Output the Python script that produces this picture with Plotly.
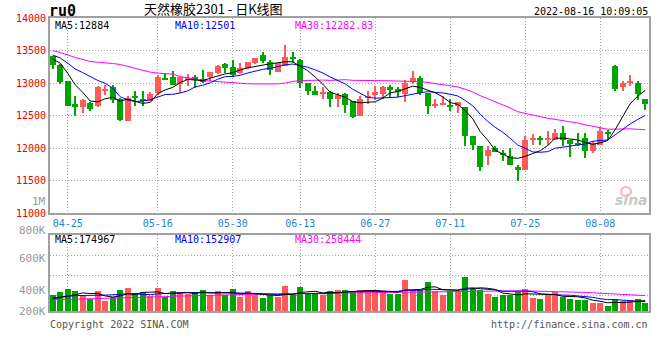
import plotly.graph_objects as go

# ---------------- data ----------------
dates = ["04-21", "04-22", "04-25", "04-26", "04-27", "04-28", "04-29", "05-05", "05-06", "05-09",
         "05-10", "05-11", "05-12", "05-13", "05-16", "05-17", "05-18", "05-19", "05-20", "05-23",
         "05-24", "05-25", "05-26", "05-27", "05-30", "05-31", "06-01", "06-02", "06-06", "06-07",
         "06-08", "06-09", "06-10", "06-13", "06-14", "06-15", "06-16", "06-17", "06-20", "06-21",
         "06-22", "06-23", "06-24", "06-27", "06-28", "06-29", "06-30", "07-01", "07-04", "07-05",
         "07-06", "07-07", "07-08", "07-11", "07-12", "07-13", "07-14", "07-15", "07-18", "07-19",
         "07-20", "07-21", "07-22", "07-25", "07-26", "07-27", "07-28", "07-29", "08-01", "08-02",
         "08-03", "08-04", "08-05", "08-08", "08-09", "08-10", "08-11", "08-12", "08-15", "08-16"]

opens = [13410, 13280, 13024, 12680, 12624, 12700, 12650, 12890, 12936, 12757,
         12409, 12793, 12757, 12726, 12844, 13075, 13085, 12982, 13050, 13100,
         13060, 13085, 13152, 13290, 13239, 13152, 13228, 13305, 13433, 13320,
         13177, 13264, 13397, 13356, 12998, 12880, 12845, 12855, 12757, 12829,
         12716, 12496, 12783, 12808, 12834, 12936, 12906, 12834, 13008, 13075,
         12844, 12660, 12675, 12665, 12650, 12629, 12188, 12024, 11871, 12000,
         11912, 11881, 11702, 11656, 12117, 12152, 12127, 12127, 12229, 12127,
         12076, 12153, 11948, 12050, 12235, 13254, 12937, 13008, 12998, 12757]

highs = [13420, 13290, 13030, 12793, 12752, 12715, 12956, 12972, 12972, 12777,
         12803, 12880, 12880, 12854, 13126, 13150, 13186, 13085, 13145, 13126,
         13203, 13162, 13280, 13305, 13357, 13305, 13325, 13385, 13470, 13357,
         13315, 13587, 13470, 13372, 13000, 12957, 12936, 12870, 12844, 12844,
         12716, 12793, 12870, 12957, 12957, 12972, 12936, 13049, 13187, 13110,
         12844, 12757, 12793, 12757, 12706, 12630, 12190, 12035, 12024, 12024,
         11963, 12000, 11743, 12178, 12219, 12178, 12255, 12296, 12342, 12127,
         12229, 12229, 12101, 12322, 12280, 13280, 13024, 13126, 13024, 12757]

lows = [13213, 12990, 12640, 12496, 12537, 12570, 12630, 12808, 12690, 12409,
        12409, 12640, 12640, 12716, 12818, 13039, 12967, 12844, 12951, 12916,
        12998, 13024, 13140, 13152, 13100, 13136, 13220, 13300, 13305, 13126,
        13177, 13264, 13305, 12921, 12808, 12808, 12757, 12624, 12624, 12537,
        12460, 12496, 12680, 12732, 12757, 12783, 12778, 12701, 12988, 12808,
        12521, 12614, 12665, 12562, 12537, 12024, 11963, 11640, 11743, 11933,
        11794, 11743, 11487, 11656, 12050, 12050, 12050, 12127, 12024, 11860,
        12024, 11845, 11922, 12050, 12127, 12870, 12870, 12957, 12742, 12578]

closes = [13270, 13008, 12650, 12624, 12732, 12603, 12936, 12895, 12742, 12424,
          12767, 12778, 12716, 12829, 13085, 13060, 12972, 13085, 13075, 13039,
          13008, 13162, 13264, 13228, 13126, 13228, 13320, 13382, 13346, 13203,
          13305, 13397, 13382, 12998, 12870, 12808, 12855, 12757, 12818, 12665,
          12475, 12757, 12803, 12854, 12946, 12885, 12855, 12998, 13075, 12844,
          12650, 12680, 12685, 12640, 12701, 12178, 12040, 11702, 11974, 11933,
          11897, 11743, 11656, 12127, 12152, 12117, 12137, 12229, 12127, 12066,
          12061, 11948, 12076, 12255, 12229, 12911, 12998, 13024, 12829, 12675]

ma5 = [13367, 13305, 13150, 12972, 12857, 12723, 12709, 12758, 12782, 12720,
       12753, 12721, 12685, 12703, 12835, 12894, 12932, 13006, 13055, 13046,
       13036, 13074, 13110, 13140, 13158, 13202, 13233, 13257, 13280, 13296,
       13311, 13327, 13327, 13257, 13190, 13091, 12983, 12858, 12822, 12781,
       12714, 12694, 12704, 12711, 12767, 12849, 12869, 12908, 12952, 12931,
       12884, 12849, 12787, 12700, 12671, 12577, 12449, 12252, 12119, 11965,
       11909, 11850, 11841, 11871, 11915, 11959, 12038, 12152, 12152, 12135,
       12124, 12086, 12056, 12081, 12114, 12284, 12494, 12683, 12798, 12887]

ma10 = [13430, 13385, 13305, 13215, 13160, 13100, 13040, 12995, 12920, 12788,
        12738, 12715, 12722, 12742, 12778, 12823, 12827, 12846, 12879, 12941,
        12965, 13003, 13058, 13098, 13102, 13119, 13154, 13183, 13210, 13227,
        13256, 13280, 13292, 13269, 13243, 13201, 13155, 13092, 13039, 12986,
        12903, 12839, 12781, 12766, 12774, 12782, 12782, 12806, 12831, 12849,
        12867, 12859, 12847, 12826, 12801, 12731, 12649, 12520, 12409, 12318,
        12243, 12149, 12046, 11995, 11940, 11934, 11944, 11997, 12012, 12025,
        12042, 12062, 12104, 12117, 12125, 12204, 12290, 12370, 12440, 12501]

ma30 = [13500, 13470, 13433, 13392, 13357, 13331, 13320, 13315, 13300, 13285,
        13255, 13228, 13200, 13167, 13152, 13145, 13136, 13100, 13085, 13060,
        13039, 13029, 13024, 13008, 12998, 12990, 12988, 12986, 12983, 12985,
        12986, 12999, 13024, 13036, 13041, 13048, 13045, 13040, 13043, 13051,
        13041, 13041, 13043, 13044, 13040, 13034, 13030, 13027, 13027, 13020,
        13009, 12992, 12973, 12954, 12939, 12904, 12862, 12806, 12760, 12718,
        12671, 12616, 12558, 12529, 12505, 12482, 12458, 12441, 12418, 12398,
        12384, 12357, 12333, 12313, 12289, 12290, 12294, 12295, 12287, 12281]

volumes = [264000, 320000, 377000, 332000, 247000, 207000, 332000, 162000, 235000, 349000,
           383000, 298000, 315000, 247000, 383000, 235000, 332000, 315000, 292000, 315000,
           349000, 264000, 332000, 264000, 366000, 235000, 332000, 264000, 218000, 264000,
           235000, 417000, 264000, 400000, 292000, 303000, 275000, 332000, 360000, 349000,
           315000, 360000, 360000, 360000, 315000, 292000, 292000, 519000, 360000, 360000,
           485000, 332000, 275000, 332000, 332000, 570000, 377000, 360000, 292000, 230000,
           264000, 275000, 315000, 377000, 218000, 201000, 286000, 315000, 230000, 201000,
           179000, 179000, 133000, 133000, 77000, 207000, 162000, 179000, 207000, 133000]

vol_ma5 = [218000, 235000, 258000, 275000, 308000, 297000, 299000, 256000, 237000, 257000,
           292000, 285000, 316000, 318000, 325000, 296000, 302000, 302000, 311000, 298000,
           321000, 307000, 310000, 305000, 315000, 292000, 306000, 292000, 283000, 263000,
           263000, 280000, 280000, 316000, 322000, 335000, 307000, 320000, 312000, 324000,
           326000, 343000, 349000, 349000, 342000, 337000, 324000, 356000, 356000, 365000,
           403000, 411000, 362000, 357000, 351000, 368000, 377000, 394000, 386000, 366000,
           305000, 284000, 275000, 292000, 290000, 277000, 279000, 279000, 250000, 247000,
           242000, 221000, 184000, 165000, 140000, 146000, 142000, 152000, 166000, 178000]

vol_ma10 = [207000, 230000, 247000, 262000, 260000, 262000, 268000, 270000, 272000, 283000,
            294000, 292000, 286000, 278000, 291000, 294000, 294000, 309000, 315000, 312000,
            308000, 305000, 306000, 308000, 306000, 306000, 306000, 301000, 294000, 289000,
            277000, 293000, 286000, 300000, 292000, 299000, 293000, 300000, 314000, 323000,
            331000, 325000, 335000, 331000, 333000, 332000, 334000, 352000, 352000, 353000,
            370000, 368000, 359000, 356000, 358000, 386000, 394000, 378000, 372000, 359000,
            336000, 331000, 335000, 339000, 328000, 291000, 282000, 277000, 271000, 268000,
            260000, 250000, 232000, 208000, 193000, 194000, 182000, 168000, 166000, 159000]

vol_ma30 = [190000, 193000, 195000, 199000, 201000, 206000, 208000, 213000, 217000, 219000,
            225000, 227000, 233000, 236000, 241000, 244000, 251000, 253000, 257000, 258000,
            261000, 262000, 267000, 270000, 272000, 277000, 280000, 285000, 289000, 294000,
            293000, 297000, 293000, 295000, 297000, 300000, 298000, 304000, 308000, 308000,
            305000, 307000, 309000, 313000, 310000, 312000, 311000, 318000, 320000, 322000,
            326000, 328000, 327000, 329000, 328000, 339000, 340000, 344000, 346000, 345000,
            346000, 341000, 343000, 342000, 340000, 336000, 337000, 336000, 332000, 327000,
            322000, 316000, 309000, 301000, 293000, 290000, 286000, 275000, 269000, 262000]

tick_dates = ["04-25", "05-16", "05-30", "06-13", "06-27", "07-11", "07-25", "08-08"]
price_ticks = [11000, 11500, 12000, 12500, 13000, 13500, 14000]
price_tick_text = ["11000", "11500", "12000", "12500", "13000", "13500", "14000"]

title_code = "ru0"
title_text = "天然橡胶2301 - 日K线图"
timestamp = "2022-08-16 10:09:05"
ma_labels = ["MA5:12884", "MA10:12501", "MA30:12282.83"]
vol_ma_labels = ["MA5:174967", "MA10:152907", "MA30:258444"]
vol_axis_labels = ["1M", "800K", "600K", "400K", "200K"]
footer_left = "Copyright 2022 SINA.COM"
footer_right = "http://finance.sina.com.cn"

# ---------------- style ----------------
W, H = 660, 360
L, R, T, B = 50, 11, 18, 49
PW, PH = W - L - R, H - T - B
MONO = "DejaVu Sans Mono"
UP, DOWN = "#FF5A5A", "#00A600"
C_MA5, C_MA10, C_MA30 = "#000000", "#0000FF", "#FF00FF"
GRID = "#A8A8A8"
AXC = "#A0A0A0"
MIN_BODY = 16

colors = [UP if c >= o else DOWN for o, c in zip(opens, closes)]
body_base = [min(o, c) for o, c in zip(opens, closes)]
body_h = [max(abs(c - o), MIN_BODY) for o, c in zip(opens, closes)]
wick_h = [h - l for h, l in zip(highs, lows)]

main_dom = [(H - B - 213) / PH, 1.0]
vol_dom = [0.0, (H - B - 235) / PH]

fig = go.Figure()
fig.add_trace(go.Bar(x=dates, y=wick_h, base=lows, width=0.14, marker=dict(color=colors, line=dict(width=0)),
                     xaxis="x", yaxis="y", showlegend=False, hoverinfo="skip"))
fig.add_trace(go.Bar(x=dates, y=body_h, base=body_base, width=0.8, marker=dict(color=colors, line=dict(width=0)),
                     xaxis="x", yaxis="y", showlegend=False))
for arr, col in ((ma30, C_MA30), (ma10, C_MA10), (ma5, C_MA5)):
    fig.add_trace(go.Scatter(x=dates, y=arr, mode="lines", line=dict(color=col, width=1),
                             xaxis="x", yaxis="y", showlegend=False))

fig.add_trace(go.Bar(x=dates, y=volumes, width=0.8, marker=dict(color=colors, line=dict(width=0)),
                     xaxis="x2", yaxis="y2", showlegend=False))
for arr, col in ((vol_ma30, C_MA30), (vol_ma10, C_MA10), (vol_ma5, C_MA5)):
    fig.add_trace(go.Scatter(x=dates, y=arr, mode="lines", line=dict(color=col, width=1),
                             xaxis="x2", yaxis="y2", showlegend=False))

xcommon = dict(type="category", range=[-0.36, len(dates) - 0.5], tickmode="array", tickvals=tick_dates,
               showgrid=True, gridcolor=GRID, griddash="1px,2px", gridwidth=1, ticks="",
               showline=True, linecolor=AXC, linewidth=2, mirror=True, zeroline=False,
               fixedrange=True, automargin=False)

def ann(text, x, y, color="#000000", size=10, family=MONO, xanchor="left"):
    return dict(text=text, x=(x - L) / PW, y=(H - B - y) / PH, xref="paper", yref="paper",
                xanchor=xanchor, yanchor="middle", showarrow=False, borderpad=0,
                font=dict(family=family, size=size, color=color))

annotations = [
    ann("<b>" + title_code + "</b>", 48, 11, size=15),
    ann(title_text, 213, 9, size=13, family="Noto Sans CJK SC", xanchor="center"),
    ann(timestamp, 649, 12, xanchor="right"),
    ann(ma_labels[0], 54, 25, C_MA5),
    ann(ma_labels[1], 174, 25, C_MA10),
    ann(ma_labels[2], 294, 25, C_MA30),
    ann(vol_ma_labels[0], 54, 240, C_MA5),
    ann(vol_ma_labels[1], 174, 240, C_MA10),
    ann(vol_ma_labels[2], 294, 240, C_MA30),
    ann(footer_left, 49, 324, "#555555"),
    ann(footer_right, 649, 324, "#555555", xanchor="right"),
    ann("<b><i>sina</i></b>", 631, 200, "#C8C8C8", size=14, family="DejaVu Sans", xanchor="center"),
]
for lab, yy in zip(vol_axis_labels, [201, 230, 258, 290, 311]):
    annotations.append(ann(lab, 47, yy, "#999999", size=11, xanchor="right"))

fig.update_layout(
    template="none",
    width=W, height=H, margin=dict(l=L, r=R, t=T, b=B, autoexpand=False),
    paper_bgcolor="#FFFFFF", plot_bgcolor="#FFFFFF",
    barmode="overlay", bargap=0, showlegend=False,
    xaxis=dict(xcommon, anchor="y", ticktext=tick_dates,
               tickfont=dict(family=MONO, size=10, color="#1A86D0")),
    xaxis2=dict(xcommon, anchor="y2", matches="x", showticklabels=False),
    yaxis=dict(domain=main_dom, range=[11000, 14000], tickmode="array", tickvals=price_ticks,
               ticktext=price_tick_text, automargin=False,
               tickfont=dict(family=MONO, size=10, color="#EE0000"), ticks="",
               showgrid=True, gridcolor=GRID, griddash="1px,2px", gridwidth=1,
               showline=True, linecolor=AXC, linewidth=2, mirror=True, zeroline=False),
    yaxis2=dict(domain=vol_dom, range=[0, 1292000], tickmode="array", automargin=False,
                tickvals=[272000, 612000, 952000], showticklabels=False, ticks="",
                showgrid=True, gridcolor=GRID, griddash="1px,2px", gridwidth=1,
                showline=True, linecolor=AXC, linewidth=2, mirror=True, zeroline=False),
    annotations=annotations,
    shapes=[dict(type="circle", xref="paper", yref="paper",
                 x0=(621 - L) / PW, x1=(631 - L) / PW, y0=(H - B - 196) / PH, y1=(H - B - 187) / PH,
                 line=dict(color="#F2B8B8", width=2))],
)

fig.write_html("out.html", config={"displayModeBar": False},
               post_script="document.body.style.margin='0px';")
